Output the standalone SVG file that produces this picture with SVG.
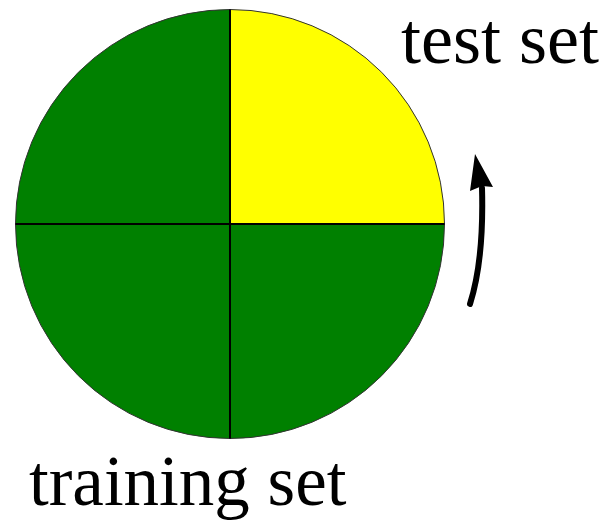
<svg xmlns="http://www.w3.org/2000/svg" width="609" height="526" viewBox="0 0 609 526">
<style>
.q{stroke:#333;stroke-width:1}
.g{fill:#008000}
.y{fill:#ffff00}
.d{stroke:#000;stroke-width:2;fill:none}
</style>
<g id="pie">
<g id="q1"><path class="g q" d="M230,224 L230,9.5 A214.5,214.5 0 0 0 15.5,224 Z"/></g>
<g id="q2"><path class="y q" d="M230,224 L444.5,224 A214.5,214.5 0 0 0 230,9.5 Z"/></g>
<g id="q3"><path class="g q" d="M230,224 L15.5,224 A214.5,214.5 0 0 0 230,438.5 Z"/></g>
<g id="q4"><path class="g q" d="M230,224 L230,438.5 A214.5,214.5 0 0 0 444.5,224 Z"/></g>
</g>
<g id="connectors">
<line class="d" x1="15.5" y1="224" x2="444.5" y2="224"/>
<line class="d" x1="230" y1="9.5" x2="230" y2="438.5"/>
<path d="M470,304 Q484,260 482,188" fill="none" stroke="#000" stroke-width="6" stroke-linecap="round"/>
<path d="M475,154 L493,187 L482,186 L470,191 Z" fill="#000"/>
</g>
<g id="labels">
<text x="401" y="63" font-size="72" fill="#000" font-family="Liberation Serif">test set</text>
<text x="29" y="505" font-size="71" fill="#000" font-family="Liberation Serif">training set</text>
</g>
</svg>
